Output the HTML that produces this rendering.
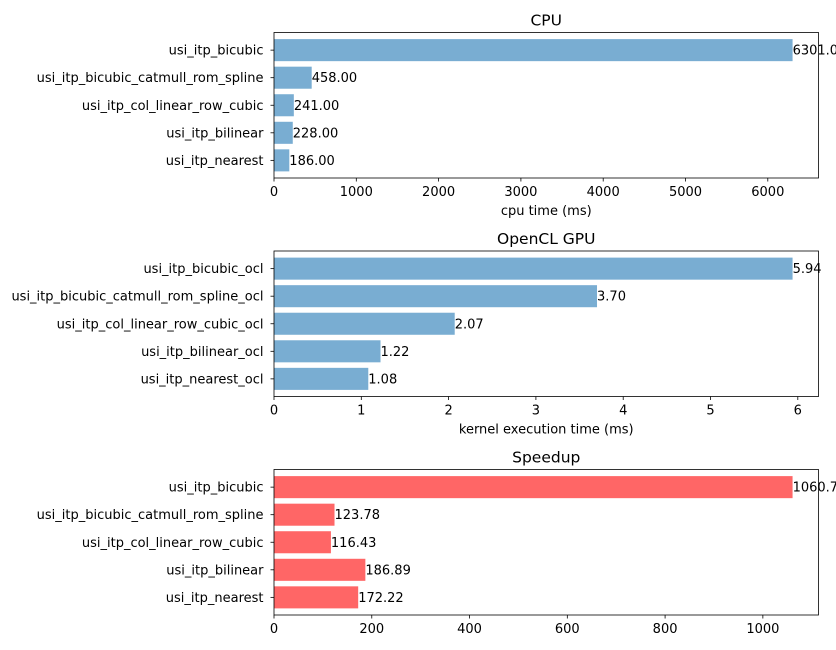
<!DOCTYPE html>
<html><head><meta charset="utf-8"><style>
html,body{margin:0;padding:0;background:#fff;width:836px;height:650px;overflow:hidden}
svg{display:block;font-family:"DejaVu Sans","Liberation Sans",sans-serif}
</style></head><body>
<svg id="chart" width="836" height="650" viewBox="0 0 836 650" xmlns="http://www.w3.org/2000/svg"></svg>
<script>
const cpuCategories = ["usi_itp_nearest","usi_itp_bilinear","usi_itp_col_linear_row_cubic","usi_itp_bicubic_catmull_rom_spline","usi_itp_bicubic"];
const cpuValues = [186.00, 228.00, 241.00, 458.00, 6301.00];
const cpuTicks = [0,1000,2000,3000,4000,5000,6000];
const gpuCategories = ["usi_itp_nearest_ocl","usi_itp_bilinear_ocl","usi_itp_col_linear_row_cubic_ocl","usi_itp_bicubic_catmull_rom_spline_ocl","usi_itp_bicubic_ocl"];
const gpuValues = [1.08, 1.22, 2.07, 3.70, 5.94];
const gpuTicks = [0,1,2,3,4,5,6];
const spCategories = ["usi_itp_nearest","usi_itp_bilinear","usi_itp_col_linear_row_cubic","usi_itp_bicubic_catmull_rom_spline","usi_itp_bicubic"];
const spValues = [172.22, 186.89, 116.43, 123.78, 1060.77];
const spTicks = [0,200,400,600,800,1000];

const svg = document.getElementById('chart');
const NS = "http://www.w3.org/2000/svg";
function mk(tag, attrs, parent){
  const e = document.createElementNS(NS, tag);
  for (const k in attrs) e.setAttribute(k, attrs[k]);
  (parent||svg).appendChild(e);
  return e;
}
function panel(key, title, xlabel, cats, vals, ticks, color, top){
  const L = 274, R = 818.5, H = 145.5, B = top + H;
  const g = mk('g', {});
  
  
  const xmax = Math.max(...vals) * 1.05;
  const xs = v => L + (v / xmax) * (R - L);
  const n = cats.length;
  const ymin = -0.4 - 0.05 * (n - 0.2), ymax = n - 1 + 0.4 + 0.05 * (n - 0.2);
  const ys = v => B - (v - ymin) / (ymax - ymin) * H;
  const bh = 0.8 * H / (ymax - ymin);
  cats.forEach((c, i) => {
    const r = mk('rect', {x: L, y: ys(i) - bh/2, width: xs(vals[i]) - L, height: bh, fill: color}, g);
    
    
    const t = mk('text', {x: xs(vals[i]), y: ys(i) + 4.5, 'font-size': 13, fill: '#000'}, g);
    t.textContent = vals[i].toFixed(2);
    
    
    mk('line', {x1: L - 3.5, x2: L, y1: ys(i), y2: ys(i), stroke: '#000', 'stroke-width': 0.8}, g);
    const yl = mk('text', {x: L - 10.5, y: ys(i) + 4.5, 'font-size': 13, 'text-anchor': 'end'}, g);
    yl.textContent = c;
    
    
  });
  ticks.forEach(tv => {
    mk('line', {x1: xs(tv), x2: xs(tv), y1: B, y2: B + 3.5, stroke: '#000', 'stroke-width': 0.8}, g);
    const tl = mk('text', {x: xs(tv), y: B + 18, 'font-size': 13, 'text-anchor': 'middle'}, g);
    tl.textContent = tv;
    
    
  });
  const frame = mk('rect', {x: L, y: top, width: R - L, height: H, fill: 'none', stroke: '#000', 'stroke-width': 0.8}, g);
  
  
  const tt = mk('text', {x: (L + R) / 2, y: top - 7, 'font-size': 15.5, 'text-anchor': 'middle'}, g);
  tt.textContent = title;
  
  
  if (xlabel) {
    const xl = mk('text', {x: (L + R) / 2, y: B + 37, 'font-size': 13, 'text-anchor': 'middle'}, g);
    xl.textContent = xlabel;
    
    
  }
}
panel('cpu', 'CPU', 'cpu time (ms)', cpuCategories, cpuValues, cpuTicks, '#79add2', 32.5);
panel('gpu', 'OpenCL GPU', 'kernel execution time (ms)', gpuCategories, gpuValues, gpuTicks, '#79add2', 251);
panel('speedup', 'Speedup', '', spCategories, spValues, spTicks, '#ff6666', 469.5);
</script>
</body></html>
